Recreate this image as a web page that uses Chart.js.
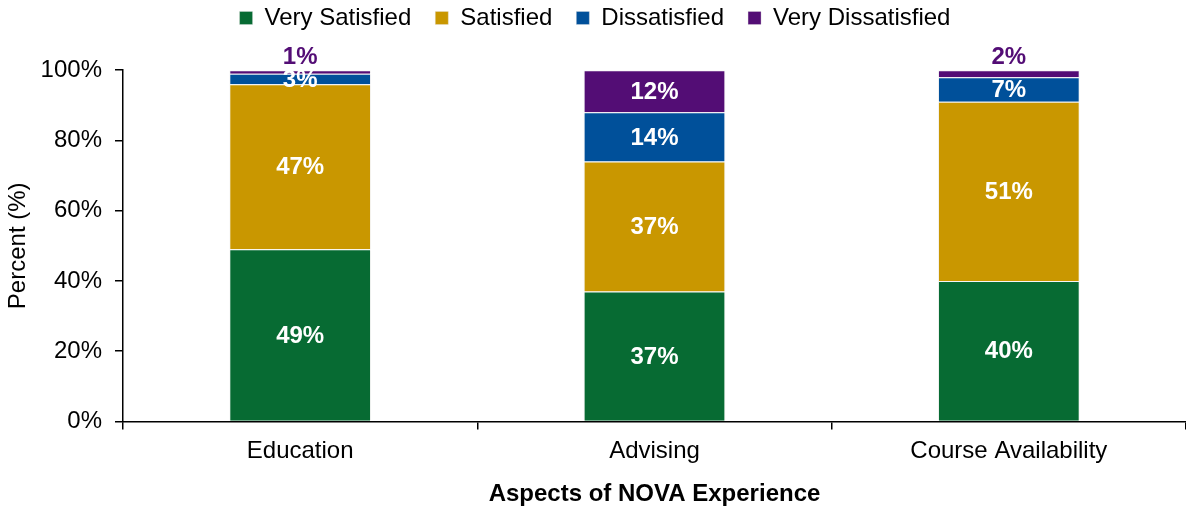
<!DOCTYPE html>
<html>
<head>
<meta charset="utf-8">
<script src="https://cdn.jsdelivr.net/npm/chart.js@4/dist/chart.umd.min.js"></script>
<style>
	html, body { margin: 0; padding: 0; background: #ffffff; }
	#wrap { position: relative; width: 1186px; height: 508px; }
</style>
</head>
<body>
<div id="wrap"><canvas id="chart"></canvas></div>
<script>
const categories = ["Education", "Advising", "Course Availability"];
const verySatisfied = [49, 37, 40];
const satisfied = [47, 37, 51];
const dissatisfied = [3, 14, 7];
const veryDissatisfied = [1, 12, 2];
const yTicks = [0, 20, 40, 60, 80, 100];

const fontFamily = "'Liberation Sans', Arial, sans-serif";

// values drawn on the segments, small ones go above the bar
const segmentLabels = {
	id: "segmentLabels",
	afterDatasetsDraw(chart) {
		const ctx = chart.ctx;
		ctx.save();
		ctx.font = "bold 24px " + fontFamily;
		ctx.textAlign = "center";
		ctx.textBaseline = "middle";
		chart.data.datasets.forEach(function (ds, di) {
			const meta = chart.getDatasetMeta(di);
			meta.data.forEach(function (bar, i) {
				const v = ds.data[i];
				const top = Math.min(bar.y, bar.base);
				const bottom = Math.max(bar.y, bar.base);
				if (di == 3 && v < 5) {
					ctx.fillStyle = ds.backgroundColor;
					ctx.fillText(v + "%", bar.x, top - 13);
				} else {
					ctx.fillStyle = "#ffffff";
					ctx.fillText(v + "%", bar.x, (top + bottom) / 2 + 1);
				}
			});
		});
		ctx.restore();
	},
};

new Chart(document.getElementById("chart"), {
	"type": "bar",
	"data": {
		"labels": categories,
		"datasets": [
			{"label": "Very Satisfied", "data": verySatisfied, "backgroundColor": "#076B33"},
			{"label": "Satisfied", "data": satisfied, "backgroundColor": "#C99700"},
			{"label": "Dissatisfied", "data": dissatisfied, "backgroundColor": "#00509A"},
			{"label": "Very Dissatisfied", "data": veryDissatisfied, "backgroundColor": "#530D75"},
		],
	},
	"options": {
		"responsive": true,
		"maintainAspectRatio": false,
		"animation": false,
		"devicePixelRatio": 1,
		"layout": {"padding": {"left": 4, "right": 0, "top": -18, "bottom": -1}},
		"datasets": {
			"bar": {
				"barPercentage": 0.4,
				"categoryPercentage": 1.0,
				"borderWidth": 1,
				"borderColor": "rgba(225,225,225,0.35)",
			},
		},
		"scales": {
			"x": {
				"stacked": true,
				"offset": true,
				"border": {"display": true, "color": "#000000", "width": 1.5},
				"grid": {"display": true, "drawOnChartArea": false, "drawTicks": true, "tickLength": 8, "color": "#000000", "lineWidth": 1.5, "offset": true},
				"ticks": {"color": "#000000", "font": {"family": fontFamily, "size": 24}, "padding": 8},
				"title": {"display": true, "text": "Aspects of NOVA Experience", "color": "#000000", "font": {"family": fontFamily, "size": 24, "weight": "bold"}, "padding": {"top": 6, "bottom": 0}},
			},
			"y": {
				"stacked": true,
				"min": 0,
				"max": 100,
				"afterBuildTicks": function (axis) {
					axis.ticks = yTicks.map((v) => ({"value": v}));
				},
				"afterFit": function (axis) {
					axis.width = 119;
				},
				"border": {"display": true, "color": "#000000", "width": 1.5},
				"grid": {"display": true, "drawOnChartArea": false, "drawTicks": true, "tickLength": 8, "color": "#000000", "lineWidth": 1.5},
				"ticks": {"color": "#000000", "font": {"family": fontFamily, "size": 24}, "padding": 13, "callback": (value) => value + "%"},
				"title": {"display": true, "text": "Percent (%)", "color": "#000000", "font": {"family": fontFamily, "size": 24}, "padding": {"top": 0, "bottom": 7}},
			},
		},
		"plugins": {
			"legend": {
				"position": "top",
				"labels": {
					"color": "#000000",
					"font": {"family": fontFamily, "size": 24},
					"boxWidth": 13,
					"boxHeight": 13,
					"padding": 24,
				},
			},
			// empty title used as a spacer between legend and plot
			"title": {
				"display": true,
				"text": " ",
				"position": "top",
				"weight": 500,
				"font": {"size": 1},
				"padding": {"top": 0, "bottom": 29},
			},
			"tooltip": {"enabled": false},
		},
	},
	"plugins": [segmentLabels],
});
</script>
</body>
</html>
